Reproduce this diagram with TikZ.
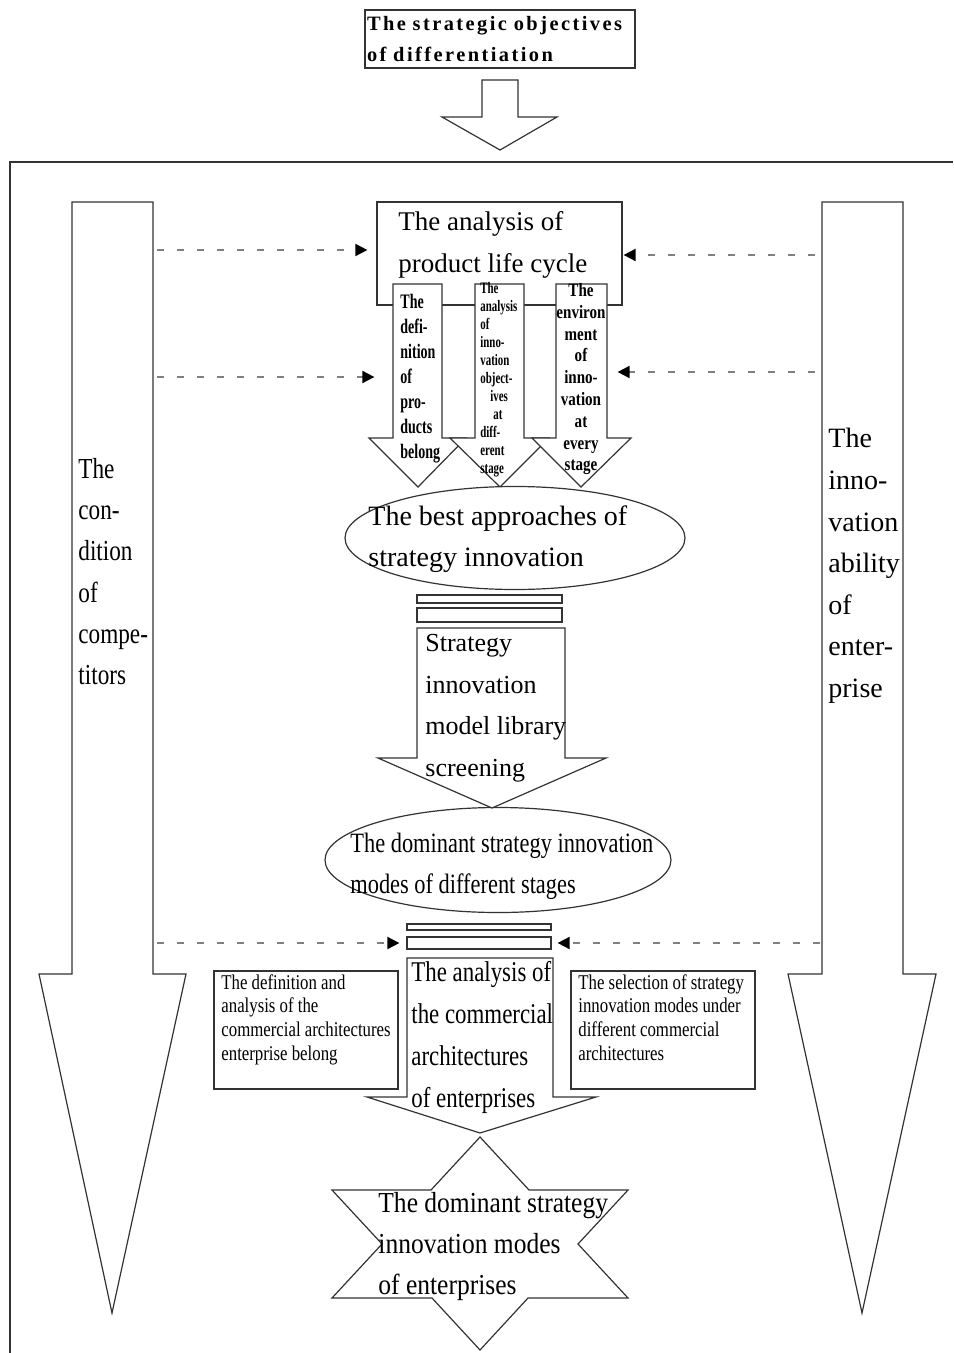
\documentclass[tikz,border=0pt]{standalone}
\usepackage{fontspec}
\setmainfont{Liberation Serif}
\newfontfamily\narrowfont[FakeStretch=0.8]{Liberation Serif}
\newfontfamily\slimfont[FakeStretch=0.88]{Liberation Serif}
\newfontfamily\tightfont[FakeStretch=0.68]{Liberation Serif}
\newfontfamily\spacedfont[LetterSpace=12]{Liberation Serif}
\usetikzlibrary{arrows.meta,shapes.geometric}

\begin{document}
\begin{tikzpicture}[x=0.5pt, y=-0.5pt,
hollow/.style={draw=black!80, line width=0.6pt, fill=white},
plainbox/.style={rectangle, draw=black!80, line width=0.6pt, fill=white, inner sep=0},
oval/.style={ellipse, draw=black!80, line width=0.6pt, fill=white, inner sep=0},
txt/.style={anchor=north west, inner sep=0, align=left},
link/.style={draw=black!50, line width=0.9pt, dash pattern=on 3.5pt off 6.5pt, -{Triangle[length=6pt, width=6pt, color=black]}},
]
\useasboundingbox (0,0) rectangle (953,1353);

% Outer frame (runs off the page on the right and bottom)
\draw[black!80, line width=0.8pt] (10,1353) -- (10,162) -- (953,162);

% Goal at the top
\node[plainbox, minimum width=135pt, minimum height=29pt, text width=133pt, align=left,
  font={\spacedfont\bfseries\fontsize{10.2pt}{15.5pt}\selectfont}] (goal) at (500,39)
  {The strategic objectives\\of differentiation};
\draw[hollow] (482,80) -- (518,80) -- (518,117) -- (557,117) -- (500,150) -- (442,117) -- (482,117) -- cycle;

% Big side arrows
\draw[hollow] (72,202) -- (153,202) -- (153,974) -- (186,974) -- (112,1313) -- (39,974) -- (72,974) -- cycle;
\draw[hollow] (822,202) -- (903,202) -- (903,974) -- (936,974) -- (862,1313) -- (788,974) -- (822,974) -- cycle;
\node[txt, font={\narrowfont\fontsize{14.5pt}{20.6pt}\selectfont}] (comptext) at (78,458)
  {The\\con-\\dition\\of\\compe-\\titors};
\node[txt, font={\fontsize{14pt}{20.8pt}\selectfont}] (abiltext) at (828,428)
  {The\\inno-\\vation\\ability\\of\\enter-\\prise};

% Product life cycle
\node[plainbox, minimum width=122.5pt, minimum height=51.5pt] (life) at (499.5,253.5) {};
\node[txt, font={\fontsize{13.5pt}{21pt}\selectfont}] (lifetext) at (398,211)
  {The analysis of\\product life cycle};

% Three small arrows
\draw[hollow] (393,284) -- (442,284) -- (442,438) -- (466,438) -- (418,487) -- (369,438) -- (393,438) -- cycle;
\draw[hollow] (475,284) -- (524,284) -- (524,438) -- (549,438) -- (500,487) -- (450,438) -- (475,438) -- cycle;
\draw[hollow] (556,284) -- (607,284) -- (607,438) -- (631,438) -- (581,487) -- (532,438) -- (556,438) -- cycle;
\node[txt, font={\tightfont\bfseries\fontsize{10.3pt}{12.5pt}\selectfont}] (defntext) at (400,294)
  {The\\defi-\\nition\\of\\pro-\\ducts\\belong};
\node[txt, font={\tightfont\bfseries\fontsize{8pt}{9pt}\selectfont}] (objtext) at (480,282)
  {The\\analysis\\of\\inno-\\vation\\object-\\\hspace*{5pt}ives\\\hspace*{6.5pt}at\\diff-\\erent\\stage};
\node[txt, anchor=north, align=center, font={\narrowfont\bfseries\fontsize{9.4pt}{10.9pt}\selectfont}] (envtext) at (581,283)
  {The\\environ\\ment\\of\\inno-\\vation\\at\\every\\stage};

% Best approaches
\node[oval, minimum width=170pt, minimum height=51.5pt] (best) at (515,538) {};
\node[txt, font={\fontsize{14pt}{20.5pt}\selectfont}] (besttext) at (368,505)
  {The best approaches of\\strategy innovation};

% Model library screening
\node[plainbox, minimum width=72.5pt, minimum height=4pt] (barA) at (489.5,599) {};
\node[plainbox, minimum width=72.5pt, minimum height=7pt] (barB) at (489.5,615) {};
\node[oval, minimum width=173pt, minimum height=52.5pt] (stages) at (498,860) {};
\draw[hollow] (417,628) -- (565,628) -- (565,758) -- (606,758) -- (492,808) -- (378,758) -- (417,758) -- cycle;
\node[txt, font={\fontsize{13pt}{20.8pt}\selectfont}] (screentext) at (425,634)
  {Strategy\\innovation\\model library\\screening};
\node[txt, font={\narrowfont\fontsize{14pt}{20.3pt}\selectfont}] (stagestext) at (350,833)
  {The dominant strategy innovation\\modes of different stages};

% Commercial architectures
\node[plainbox, minimum width=72pt, minimum height=3pt] (barC) at (479,927) {};
\node[plainbox, minimum width=72pt, minimum height=6pt] (barD) at (479,943) {};
\draw[hollow] (407,958) -- (553,958) -- (553,1097) -- (596,1097) -- (480,1133) -- (367,1097) -- (407,1097) -- cycle;
\node[txt, font={\narrowfont\fontsize{14.3pt}{21pt}\selectfont}] (archtext) at (411,961)
  {The analysis of\\the commercial\\architectures\\of enterprises};
\node[plainbox, minimum width=92pt, minimum height=59pt] (defbox) at (306,1030) {};
\node[plainbox, minimum width=92pt, minimum height=59pt] (selbox) at (663,1030) {};
\node[txt, font={\narrowfont\fontsize{10.5pt}{11.9pt}\selectfont}] (deftext) at (221,974)
  {The definition and\\analysis of the\\commercial architectures\\enterprise belong};
\node[txt, font={\narrowfont\fontsize{10.5pt}{11.9pt}\selectfont}] (seltext) at (578,974)
  {The selection of strategy\\innovation modes under\\different commercial\\architectures};

% Final result
\draw[hollow] (480,1137) -- (529,1190) -- (628,1190) -- (578,1244) -- (628,1298) -- (528,1298) -- (480,1350)
  -- (432,1298) -- (332,1298) -- (382,1244) -- (332,1190) -- (431,1190) -- cycle;
\node[txt, font={\slimfont\fontsize{14.5pt}{20.5pt}\selectfont}] (resulttext) at (378,1192)
  {The dominant strategy\\innovation modes\\of enterprises};

% Dashed influences
\coordinate (compA) at (157,250);
\coordinate (compB) at (157,377);
\coordinate (compC) at (157,943);
\coordinate (abilA) at (815,255);
\coordinate (abilB) at (815,372);
\coordinate (abilC) at (820,943);
\draw[link, shorten >=4.5pt] (compA) -- (compA -| life.west);
\draw[link, shorten >=1pt] (compB) -- (compB -| life.west);
\draw[link, shorten >=3.5pt] (compC) -- (compC -| barD.west);
\draw[link, shorten >=0.5pt] (abilA) -- (abilA -| life.east);
\draw[link, shorten >=-2.5pt] (abilB) -- (abilB -| life.east);
\draw[link, shorten >=3pt] (abilC) -- (abilC -| barD.east);

\end{tikzpicture}
\end{document}
